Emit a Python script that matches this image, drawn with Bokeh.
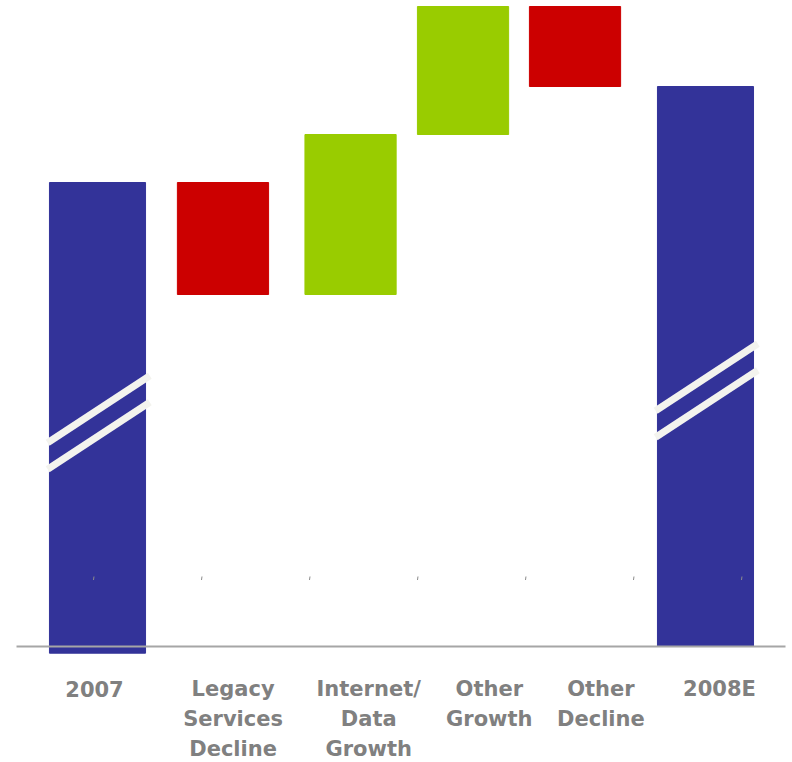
from bokeh.plotting import figure
from bokeh.models import Range1d, ColumnDataSource
from bokeh.embed import file_html
from bokeh.resources import INLINE
from bokeh.core.properties import value

# Revenue bridge, 2007 -> 2008E (units on a broken axis)
categories = ["2007", "Legacy Services Decline", "Internet/ Data Growth",
              "Other Growth", "Other Decline", "2008E"]
label_lines = [["2007"], ["Legacy", "Services", "Decline"], ["Internet/", "Data", "Growth"],
               ["Other", "Growth"], ["Other", "Decline"], ["2008E"]]
start_value = 46.4
step_changes = [-11.2, 16.0, 12.8, -8.0]

BLUE, RED, GREEN = "#333399", "#CC0000", "#99CC00"
BREAK_COL = "#F3F3EE"
LABEL_COL = "#808080"

# ---- waterfall geometry -------------------------------------------------
bottoms, tops, colors, widths = [], [], [], []
bottoms.append(-0.67)          # first total sits slightly below the baseline
tops.append(start_value)
colors.append(BLUE)
widths.append(0.79)
running = start_value
for d in step_changes:
    nxt = running + d
    bottoms.append(min(running, nxt))
    tops.append(max(running, nxt))
    colors.append(GREEN if d > 0 else RED)
    widths.append(0.75)
    running = nxt
bottoms.append(0.0)
tops.append(running)
colors.append(BLUE)
widths.append(0.79)

# small per-slot placement tweaks (slot units)
slot_shift = [0.0, 0.032, 0.081, 0.006, -0.073, 0.0]
xs = [i + s for i, s in enumerate(slot_shift)]

src = ColumnDataSource(dict(x=xs, bottom=bottoms, top=tops, color=colors, width=widths))

p = figure(width=792, height=762, output_backend="svg", toolbar_location=None,
           x_range=Range1d(-0.7977, 5.7155), y_range=Range1d(-11.6, 64.6),
           min_border=0, min_border_left=0, min_border_right=0,
           min_border_top=0, min_border_bottom=0,
           x_axis_location=None, y_axis_location=None)
p.outline_line_color = None
p.grid.visible = False
p.background_fill_color = "white"
p.border_fill_color = "white"

p.vbar(x="x", width="width", bottom="bottom", top="top", color="color", source=src)

# axis-break marks on the two total bars
break_centres = {0: 22.4, 5: 25.6}
bx0, by0, bx1, by1 = [], [], [], []
for i, yc in break_centres.items():
    xc = xs[i]
    for k in (1.33, -1.33):
        bx0.append(xc - 0.41)
        by0.append(yc + k - 3.35)
        bx1.append(xc + 0.43)
        by1.append(yc + k + 3.35)
p.segment(x0=bx0, y0=by0, x1=bx1, y1=by1, line_color=BREAK_COL, line_width=7,
          line_cap="butt")

# faint tick marks of the category scale
tick_x = [(-4 + 108 * k) / 121.6 for k in range(7)]
p.segment(x0=tick_x, y0=[6.65] * 7, x1=[t + 0.004 for t in tick_x], y1=[7.0] * 7,
          line_color="#8c8c8c", line_width=1)

# baseline
p.segment(x0=[-0.666], y0=[0.0], x1=[5.658], y1=[0.0], line_color="#A6A6A6", line_width=2)

# category labels
label_nudge = [-3, 14, 28, 27, 17, 14]
tx, ty, tt, toff, txo = [], [], [], [], []
for i, lines in enumerate(label_lines):
    for j, line in enumerate(lines):
        tx.append(float(i))
        ty.append(-4.2)
        tt.append(line)
        toff.append(j * 30)
        txo.append(label_nudge[i])
p.text(x=tx, y=ty, text=tt, x_offset=txo, y_offset=toff,
       text_font=value("DejaVu Sans"), text_font_style="bold", text_font_size="21px",
       text_color=LABEL_COL, text_align="center", text_baseline="alphabetic")

open("out.html", "w").write(file_html(p, INLINE))
